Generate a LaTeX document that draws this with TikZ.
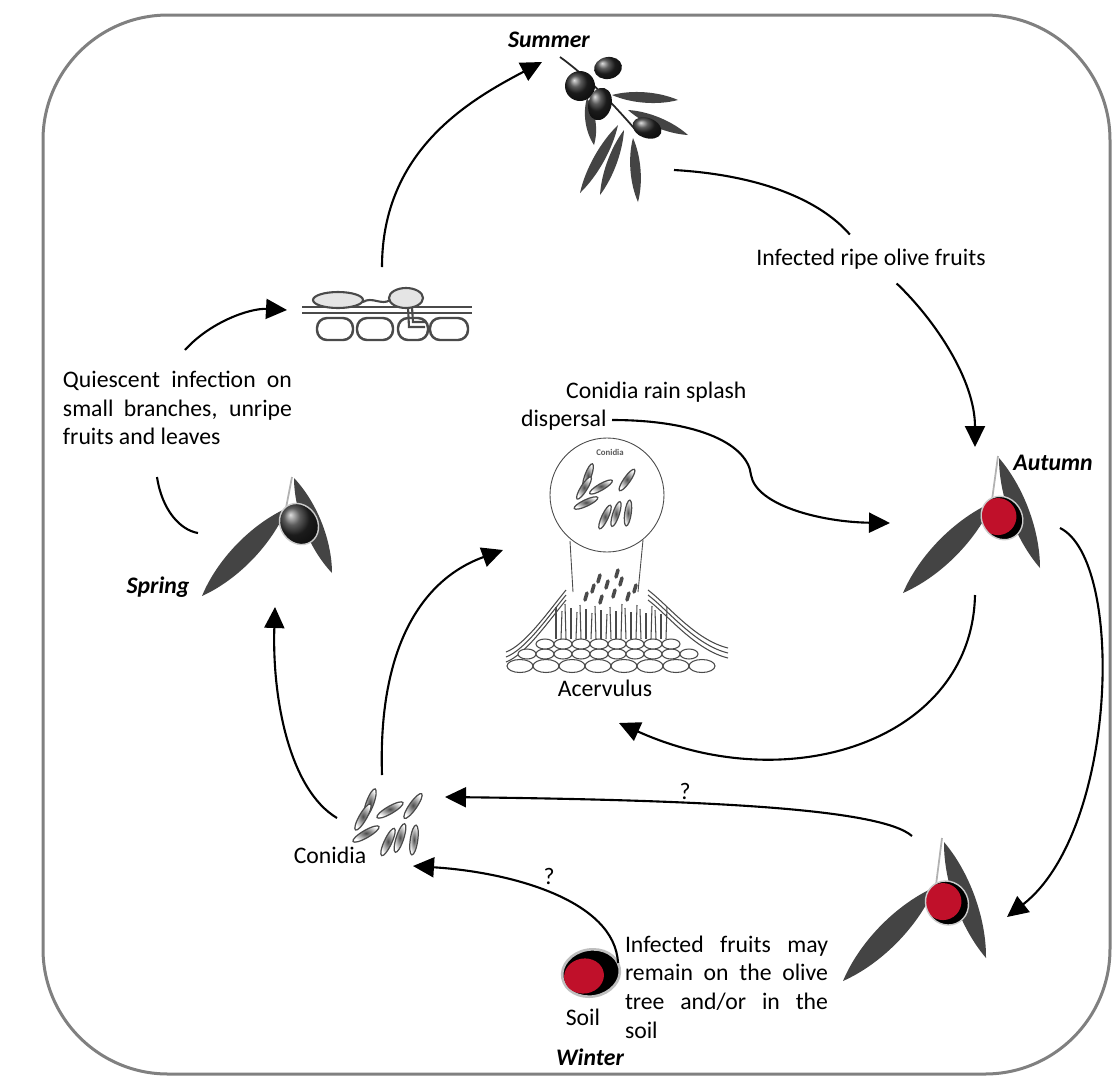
\documentclass[tikz,border=0pt]{standalone}
\usepackage{fontspec}
\setmainfont{Carlito}
\usetikzlibrary{arrows.meta,calc,shapes.geometric}
\definecolor{frame}{HTML}{808080}
\definecolor{leafgrey}{HTML}{444444}
\definecolor{infected}{HTML}{C0102A}
\definecolor{cellline}{HTML}{4A4A4A}
\tolerance=9999
\hyphenpenalty=10000
\newcommand\txtsize{\fontsize{13.5}{16.3}\selectfont}
% olive leaf from base #1 to tip #2, #3 = width factor
\newcommand\oleaf[3]{\fill[leafgrey] (#1) .. controls ($(#1)!0.3!(#2)!#3!90:(#2)$) and ($(#2)!0.3!(#1)!#3!-90:(#1)$) .. (#2) .. controls ($(#2)!0.3!(#1)!#3!90:(#1)$) and ($(#1)!0.3!(#2)!#3!-90:(#2)$) .. cycle;}
\begin{document}
\begin{tikzpicture}[x=0.2mm, y=-0.2mm,
	flow/.style={line width=1.2pt, -{Triangle[length=4.2mm,width=4mm]}},
	link/.style={line width=1.2pt},
	lbl/.style={inner sep=1pt, font=\txtsize},
	season/.style={inner sep=1pt, font=\txtsize\bfseries\itshape},
	olive/.style={ellipse, inner sep=0pt, shading=ball, ball color=black!85},
	ripe/.style={ellipse, inner sep=0pt, fill=black, path picture={\fill[infected] ([xshift=-0.5mm,yshift=0.7mm]path picture bounding box.center) circle (3.7mm);}},
	spore/.style={ellipse, inner sep=0pt, draw=cellline, line width=0.7pt, shading=radial, inner color=black!70, outer color=white, minimum width=6mm, minimum height=1.5mm},
	cell/.style={ellipse, inner sep=0pt, draw=cellline, line width=0.6pt, fill=white},
	hypha/.style={cellline, line width=0.6pt}]
\fill[white] (0,0) rectangle (1112,1076);
\useasboundingbox (0,0) rectangle (1112,1076);
\draw[frame, line width=0.6mm, rounded corners=25mm] (43,15) rectangle (1110,1074);

% summer sprig
\draw[gray!30!black, line width=1pt] (560,57) .. controls (585,75) and (610,100) .. (640,135);
\oleaf{612,95}{678,100}{0.15}
\oleaf{628,110}{688,135}{0.15}
\oleaf{587,98}{594,145}{0.2}
\oleaf{618,125}{580,193}{0.13}
\oleaf{624,130}{600,195}{0.13}
\oleaf{633,138}{638,202}{0.15}
\node[olive, minimum width=5.6mm, minimum height=4.4mm, rotate=10] (sum-o1) at (608,68) {};
\node[olive, minimum width=6mm, minimum height=6mm] (sum-o2) at (580,86) {};
\node[olive, minimum width=4.6mm, minimum height=6.6mm, rotate=-15] (sum-o3) at (600,104) {};
\node[olive, minimum width=6mm, minimum height=4mm, rotate=-20] (sum-o4) at (647,128) {};

% spring sprig
\draw[gray!60, line width=1pt] (292,477) -- (286,508);
\oleaf{287,508}{202,596}{0.17}
\oleaf{294,478}{332,573}{0.17}
\node[olive, minimum width=7.4mm, minimum height=8.6mm, rotate=35, draw=gray!40, line width=0.8pt] (spr-olive) at (299,524) {};

% autumn sprig
\draw[gray!60, line width=1pt] (998,456) -- (992,500);
\oleaf{993,502}{903,593}{0.17}
\oleaf{999,458}{1040,568}{0.16}
\node[ripe, minimum width=8mm, minimum height=9mm, rotate=35, draw=gray!40, line width=0.8pt] (aut-olive) at (1002,518) {};

% fruits left on the tree
\draw[gray!60, line width=1pt] (942,838) -- (936,885);
\oleaf{935,887}{843,981}{0.17}
\oleaf{944,842}{986,958}{0.16}
\node[ripe, minimum width=8.4mm, minimum height=9mm, rotate=35, draw=gray!40, line width=0.8pt] (late-olive) at (947,903) {};

% fruit in the soil
\node[ellipse, fill=black, draw=gray!50, line width=1.5pt, minimum width=11.6mm, minimum height=9.4mm, rotate=10] (soil-fruit) at (591,973) {};
\node[ellipse, fill=infected, inner sep=0pt, minimum width=8mm, minimum height=7mm, rotate=10] (soil-rot) at (584,976) {};

% appressorium on the host surface
\foreach \x/\w in {335/36, 375/36, 413/30, 449/38}
	\draw[cellline, line width=1.4pt, rounded corners=2mm] (\x-\w/2,318) rectangle (\x+\w/2,340);
\draw[cellline, line width=1.2pt] (302,307) -- (472,307) (302,313) -- (472,313);
\draw[cellline, line width=1.2pt, fill=gray!20] (338,300) ellipse [x radius=25, y radius=8];
\draw[cellline, line width=1.2pt, fill=gray!20] (406,298) ellipse [x radius=17, y radius=10];
\draw[cellline, line width=1.2pt] (363,302) .. controls (372,296) and (382,306) .. (390,300);
\draw[cellline, line width=1.2pt] (408,307) -- (409,327) -- (425,327) (412,307) -- (413,322) -- (425,322);

% acervulus
\draw[cellline, line width=0.5pt] (607,495) circle [radius=57];
\node[font=\fontsize{5}{6}\selectfont\bfseries, text=gray!70!black, inner sep=0pt] (zoom-lbl) at (610,452) {Conidia};
\foreach \x/\y/\a [count=\i] in {588/476/70, 584/488/58, 601/487/30, 627/480/55, 586/503/25, 605/517/65, 616/514/72, 628/513/82}
	\node[spore, rotate=\a, minimum width=5.2mm, minimum height=1.3mm] (zc\i) at (\x,\y) {};
\draw[cellline, line width=0.5pt] (570,541) -- (573,592) (643,540) -- (638,592);
\foreach \d in {0,5,10} {
	\draw[hypha] (506,652+\d) .. controls (525,645+\d) and (548,612+\d) .. (566,590+\d);
	\draw[hypha] (648,590+\d) .. controls (668,605+\d) and (695,640+\d) .. (728,648+\d);
}
\foreach \x [count=\k] in {556,561,...,666}
	\draw[hypha] (\x,639) -- ({\x+mod(\k,3)-1},{614-mod(7*\k,11)});
\foreach \x/\y in {585/600, 592/592, 600/603, 606/588, 613/597, 620/585, 627/600, 634/592, 598/582, 616/577}
	\draw[cellline, line width=2pt, line cap=round] (\x,\y) -- ++(2,-7);
\foreach \x in {527,545,...,689}
	\node[cell, minimum width=3.6mm, minimum height=2mm] (mc\x) at (\x,654) {};
\foreach \x in {545,563,...,671}
	\node[cell, minimum width=3.6mm, minimum height=2mm] (tc\x) at (\x,644) {};
\foreach \x in {520,546,...,702}
	\node[cell, minimum width=5.2mm, minimum height=2.6mm] (bc\x) at (\x,666) {};

% free conidia
\foreach \x/\y/\a [count=\i] in {370/803/70, 363/817/60, 390/810/30, 413/806/55, 366/834/30, 388/842/65, 400/838/72, 414/840/82}
	\node[spore, rotate=\a] (con\i) at (\x,\y) {};

% labels
\node[season] (summer-lbl) at (549,40) {Summer};
\node[season] (autumn-lbl) at (1053,463) {Autumn};
\node[season] (spring-lbl) at (158,587) {Spring};
\node[season] (winter-lbl) at (590,1057) {Winter};
\node[lbl, inner ysep=2.8mm] (ripe) at (871,259) {Infected ripe olive fruits};
\node[lbl, text width=45.8mm, align=justify] (quiescent) at (177.5,408) {Quiescent infection on\linebreak small branches, unripe\linebreak fruits and leaves};
\node[lbl, align=left, anchor=west] (splash) at (519,406) {\hspace*{9mm}Conidia rain splash\\dispersal};
\node[lbl] (acerv-lbl) at (605,688) {Acervulus};
\node[lbl] (conidia-lbl) at (330,855) {Conidia};
\node[lbl] (q-late) at (685,791) {?};
\node[lbl] (q-soil) at (549,876) {?};
\node[lbl] (soil-lbl) at (583,1017) {Soil};
\node[lbl, text width=40.6mm, align=justify] (remain) at (726.5,987) {Infected fruits may\linebreak remain on the olive\linebreak tree and/or in the\linebreak soil};

% connector ends
\coordinate (q-top) at (185,350);
\coordinate (appr-w) at (287,310);
\coordinate (appr-n) at (382,267);
\coordinate (sum-w) at (542,62);
\coordinate (sum-e) at (674,170);
\coordinate (aut-n) at (975,447);
\coordinate (splash-e) at (612,420);
\coordinate (aut-w) at (890,523);
\coordinate (aut-s) at (975,595);
\coordinate (acerv-se) at (619,723);
\coordinate (aut-e) at (1060,528);
\coordinate (late-ne) at (1007,917);
\coordinate (late-nw) at (912,836);
\coordinate (con-e) at (445,797);
\coordinate (con-n) at (382,775);
\coordinate (acerv-w) at (503,550);
\coordinate (con-w) at (337,818);
\coordinate (spr-s) at (275,607);
\coordinate (soil-ne) at (618,963);
\coordinate (con-se) at (413,866);
\coordinate (spr-w) at (198,533);
\coordinate (q-bottom) at (157,477);

% cycle
\draw[flow] (q-top) .. controls (210,322) and (250,308) .. (appr-w);
\draw[flow] (appr-n) .. controls (382,150) and (470,100) .. (sum-w);
\draw[link] (sum-e) .. controls (760,175) and (820,200) .. (ripe);
\draw[flow] (ripe) .. controls (935,320) and (975,380) .. (aut-n);
\draw[flow] (splash-e) .. controls (700,420) and (748,445) .. (751,475) .. controls (756,505) and (820,522) .. (aut-w);
\draw[flow] (aut-s) .. controls (972,740) and (790,800) .. (acerv-se);
\draw[flow] (aut-e) .. controls (1125,560) and (1118,830) .. (late-ne);
\draw[flow] (late-nw) .. controls (880,808) and (700,800) .. (con-e);
\draw[flow] (con-n) .. controls (378,650) and (420,580) .. (acerv-w);
\draw[flow] (con-w) .. controls (290,790) and (272,700) .. (spr-s);
\draw[flow] (soil-ne) .. controls (615,900) and (510,872) .. (con-se);
\draw[link] (spr-w) .. controls (180,530) and (162,510) .. (q-bottom);
\end{tikzpicture}
\end{document}
